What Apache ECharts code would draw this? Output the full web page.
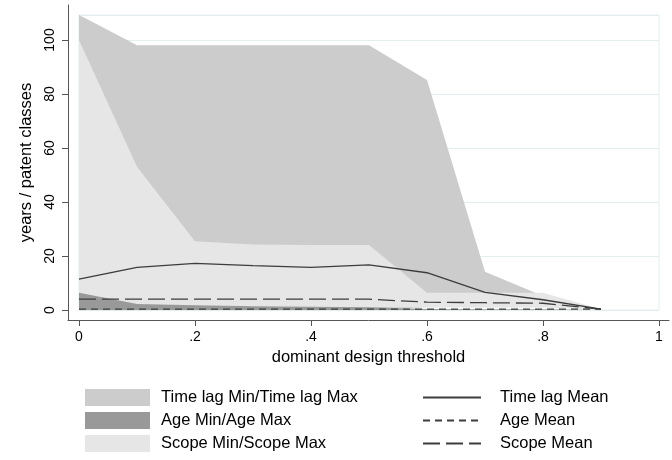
<!DOCTYPE html>
<html>
<head>
<meta charset="utf-8">
<script src="https://cdn.jsdelivr.net/npm/echarts@6/dist/echarts.min.js"></script>
<style>
html,body{margin:0;padding:0;background:#fff;}
#chart{width:672px;height:460px;}
</style>
</head>
<body>
<div id="chart"></div>
<script>
// ---- data ----
var thresholds   = [0, 0.1, 0.2, 0.3, 0.4, 0.5, 0.6, 0.7, 0.8, 0.9];
var timeLagMin   = [0, 0, 0, 0, 0, 0, 1, 1, 1, 0.3];
var timeLagMax   = [109.3, 98.1, 98.1, 98.1, 98.1, 98.1, 85.2, 14.2, 5.2, 0.3];
var timeLagMean  = [11.4, 15.8, 17.3, 16.4, 15.8, 16.7, 13.8, 6.5, 3.8, 0.3];
var ageMin       = [0, 0, 0, 0, 0, 0, 0, 0, 0, 0.3];
var ageMax       = [6.4, 2.2, 1.8, 1.4, 1.2, 1.0, 0.4, 0.3, 0.3, 0.3];
var ageMean      = [0.3, 0.3, 0.3, 0.3, 0.3, 0.3, 0.3, 0.3, 0.3, 0.3];
var scopeMin     = [1, 1, 1, 1, 1, 1, 1, 1, 1, 0.3];
var scopeMax     = [100, 53.1, 25.5, 24.3, 24.1, 24.1, 6.4, 6.4, 6.4, 0.3];
var scopeMean    = [4.0, 4.0, 4.0, 4.0, 4.0, 4.0, 2.9, 2.7, 2.5, 0.3];

var xTickValues  = [0, 0.2, 0.4, 0.6, 0.8, 1];
var xTickLabels  = ['0', '.2', '.4', '.6', '.8', '1'];
var yTickValues  = [0, 20, 40, 60, 80, 100];
var yTickLabels  = ['0', '20', '40', '60', '80', '100'];

var bandNames = ['Time lag Min/Time lag Max', 'Age Min/Age Max', 'Scope Min/Scope Max'];
var meanNames = ['Time lag Mean', 'Age Mean', 'Scope Mean'];

// ---- styling ----
var FONT = "'Liberation Sans', Arial, sans-serif";
var colTime = '#cccccc', colAge = '#999999', colScope = '#e6e6e6';
var lineCol = '#3c3c3c';
var axisCol = '#555555';
var gridCol = '#e4eef0';

// plot extents (data range), outer region adds Stata-like margins
var yDataMax = 109.26;
var pxPerX = 580, pxPerY = 2.7;
var xOuterMin = -11 / pxPerX, xOuterMax = 1 + 10 / pxPerX;
var yOuterMin = -10 / pxPerY, yOuterMax = yDataMax + 10 / pxPerY;

function pairs(vals) { return thresholds.map(function (x, i) { return [x, vals[i]]; }); }
// for stacked bands the value goes in dimension 0 so that stacking happens on y
function yxPairs(vals) { return thresholds.map(function (x, i) { return [vals[i], x]; }); }
function yxDiffs(hi, lo) { return thresholds.map(function (x, i) { return [hi[i] - lo[i], x]; }); }

function band(id, name, lo, hi, color) {
  return [
    { name: id + '_base', type: 'line', xAxisIndex: 1, yAxisIndex: 1, stack: id,
      encode: { x: 1, y: 0 },
      data: yxPairs(lo), symbol: 'none', lineStyle: { opacity: 0, width: 0 }, silent: true },
    { name: name, type: 'line', xAxisIndex: 1, yAxisIndex: 1, stack: id,
      encode: { x: 1, y: 0 },
      data: yxDiffs(hi, lo), symbol: 'none', color: color,
      lineStyle: { opacity: 0, width: 0 }, areaStyle: { color: color, opacity: 1 }, silent: true }
  ];
}
function meanLine(name, vals, dash, width) {
  return { name: name, type: 'line', xAxisIndex: 1, yAxisIndex: 1, data: pairs(vals),
    symbol: 'none', color: lineCol, lineStyle: { color: lineCol, width: width, type: dash }, silent: true };
}

var series = []
  .concat(band('tl', bandNames[0], timeLagMin, timeLagMax, colTime))
  .concat(band('sc', bandNames[2], scopeMin, scopeMax, colScope))
  .concat(band('ag', bandNames[1], ageMin, ageMax, colAge))
  .concat([
    meanLine(meanNames[0], timeLagMean, 'solid', 1.3),
    meanLine(meanNames[1], ageMean, [7, 5], 1.3),
    meanLine(meanNames[2], scopeMean, [17, 6], 1.3)
  ]);

var option = {
  animation: false,
  backgroundColor: '#ffffff',
  textStyle: { fontFamily: FONT },
  grid: [
    { left: 68, right: 3, top: 5, bottom: 140 },
    { left: 79, right: 13, top: 15, bottom: 150, show: true, borderColor: gridCol, borderWidth: 1, backgroundColor: 'transparent' }
  ],
  xAxis: [
    { type: 'value', gridIndex: 0, min: xOuterMin, max: xOuterMax,
      axisLine: { show: true, onZero: false, lineStyle: { color: axisCol, width: 1 } },
      axisTick: { show: true, length: 6, customValues: xTickValues, lineStyle: { color: axisCol } },
      axisLabel: { show: true, customValues: xTickValues, margin: 10, color: '#000', fontSize: 14, fontFamily: FONT,
        formatter: function (v) { var i = xTickValues.indexOf(v); return i >= 0 ? xTickLabels[i] : ''; } },
      splitLine: { show: false },
      name: 'dominant design threshold', nameLocation: 'middle', nameGap: 28,
      nameTextStyle: { fontSize: 16.5, color: '#000', fontFamily: FONT } },
    { type: 'value', gridIndex: 1, min: 0, max: 1, show: true,
      axisLine: { show: false }, axisTick: { show: false }, axisLabel: { show: false }, splitLine: { show: false } }
  ],
  yAxis: [
    { type: 'value', gridIndex: 0, min: yOuterMin, max: yOuterMax,
      axisLine: { show: true, onZero: false, lineStyle: { color: axisCol, width: 1 } },
      axisTick: { show: true, length: 6, customValues: yTickValues, lineStyle: { color: axisCol } },
      axisLabel: { show: true, customValues: yTickValues, rotate: 90, margin: 11, color: '#000', fontSize: 14, fontFamily: FONT,
        formatter: function (v) { var i = yTickValues.indexOf(v); return i >= 0 ? yTickLabels[i] : ''; } },
      splitLine: { show: false },
      name: 'years / patent classes', nameLocation: 'middle', nameGap: 33, nameRotate: 90,
      nameTextStyle: { fontSize: 16.5, color: '#000', fontFamily: FONT } },
    { type: 'value', gridIndex: 1, min: 0, max: yDataMax, interval: 20, show: true,
      axisLine: { show: false }, axisTick: { show: false }, axisLabel: { show: false },
      splitLine: { show: true, lineStyle: { color: gridCol, width: 1 } } }
  ],
  legend: [
    { orient: 'vertical', left: 85, top: 389, padding: 0, itemWidth: 65, itemHeight: 17, itemGap: 6,
      selectedMode: false,
      textStyle: { fontSize: 16.5, color: '#000', fontFamily: FONT, padding: [0, 0, 0, 6] },
      data: [
        { name: bandNames[0], icon: 'rect', itemStyle: { color: colTime, borderWidth: 0 } },
        { name: bandNames[1], icon: 'rect', itemStyle: { color: colAge, borderWidth: 0 } },
        { name: bandNames[2], icon: 'rect', itemStyle: { color: colScope, borderWidth: 0 } }
      ] },
    { orient: 'vertical', left: 422, top: 389, padding: 0, itemWidth: 58, itemHeight: 17, itemGap: 6,
      selectedMode: false,
      itemStyle: { opacity: 0 },
      textStyle: { fontSize: 16.5, color: '#000', fontFamily: FONT, padding: [0, 0, 0, 14] },
      data: meanNames }
  ],
  series: series
};

var chart = echarts.init(document.getElementById('chart'), null, { renderer: 'canvas' });
chart.setOption(option);
</script>
</body>
</html>
